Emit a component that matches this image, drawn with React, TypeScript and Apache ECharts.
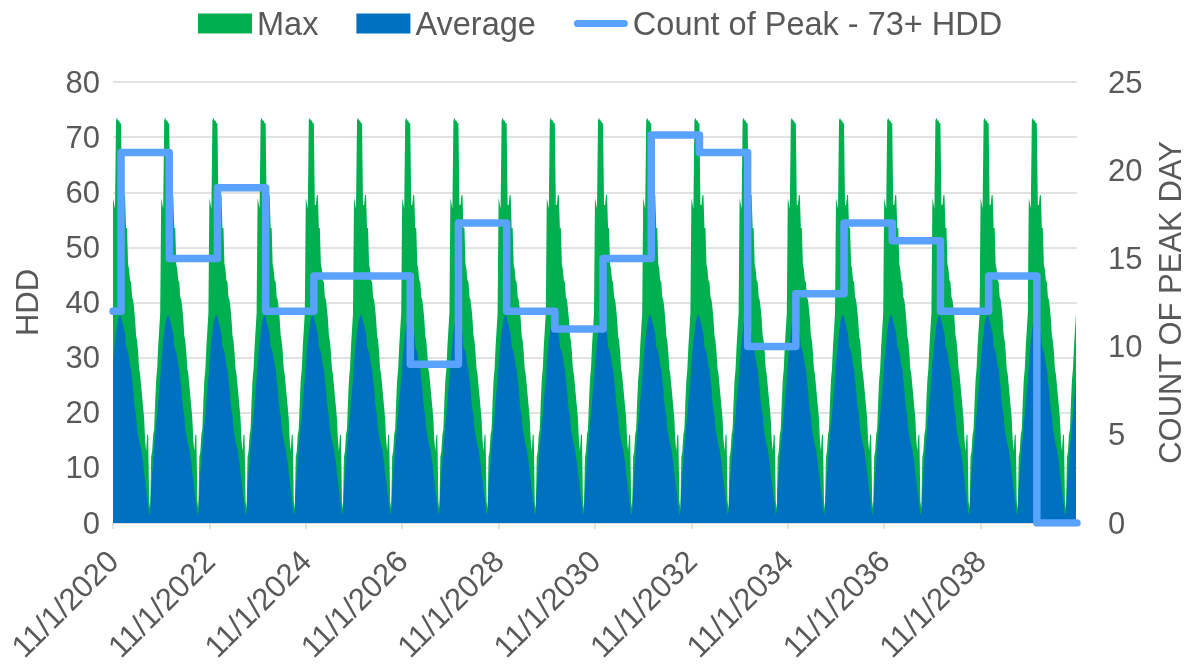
import React, { useEffect, useRef } from "react";
import * as echarts from "echarts";

// Heating seasons shown (each starts 11/1 of the year)
const seasonStartYears = [2020, 2021, 2022, 2023, 2024, 2025, 2026, 2027, 2028, 2029, 2030, 2031, 2032, 2033, 2034, 2035, 2036, 2037, 2038, 2039];

// Daily HDD profile across one season (Nov 1 -> Oct 31), read at ~1 picture pixel (~7.6 days) resolution
const maxProfile = [59, 58, 57, 73, 73.5, 73, 73, 72.5, 72.5, 57.7, 57.7, 59.5, 59.5, 53.5, 53.5, 47, 46, 44, 43.7, 41, 40.5, 39, 37, 34, 33, 31, 28, 27, 25, 23, 21, 19, 15, 13, 16, 16, 4, 2.5, 12, 13, 16, 17, 22, 26, 28, 32, 35, 38];
const avgProfile = [29, 31, 33, 34.5, 36, 37, 37.5, 37.8, 37.4, 36.5, 36, 35, 34.5, 32, 31.5, 31, 30, 28.5, 28, 26, 24.5, 22, 20.5, 19.5, 17, 16, 15, 14, 13.5, 12, 11, 9, 7.8, 6, 4.7, 3, 1.5, 2, 6, 9, 11, 14, 15.5, 18, 19.5, 22, 24, 26];

// Count of peak days (73+ HDD) per calendar year
const peakYears = [2020, 2021, 2022, 2023, 2024, 2025, 2026, 2027, 2028, 2029, 2030, 2031, 2032, 2033, 2034, 2035, 2036, 2037, 2038, 2039, 2040];
const peakCounts = [12, 21, 15, 19, 12, 14, 14, 9, 17, 12, 11, 15, 22, 21, 10, 13, 17, 16, 12, 14, 0];

const hddAxis = { min: 0, max: 80, interval: 10 };
const countAxis = { min: 0, max: 25, interval: 5 };
const dateAxis = { min: 0, max: 20, interval: 2 };

const FONT = "'Liberation Sans', Arial, sans-serif";
const TEXT = "#595959";
const GRID = "#D9D9D9";

export default function App() {
  const ref = useRef<HTMLDivElement>(null);
  useEffect(() => {
    if (!ref.current) return;
    const chart = echarts.init(ref.current, undefined, { renderer: "svg" });
    const n = maxProfile.length;
    const maxData: number[][] = [];
    const avgData: number[][] = [];
    seasonStartYears.forEach((y) => {
      const k = y - seasonStartYears[0];
      maxProfile.forEach((v, p) => maxData.push([k + p / n, v]));
      avgProfile.forEach((v, p) => avgData.push([k + p / n, v]));
    });
    const jan1 = 61 / 365;
    const peakData: number[][] = [];
    peakYears.forEach((y, i) => {
      const k = y - peakYears[0];
      const s = i === 0 ? 0 : k - 1 + jan1;
      const e = i === peakYears.length - 1 ? dateAxis.max : k + jan1;
      peakData.push([s, peakCounts[i]], [e, peakCounts[i]]);
    });

    chart.setOption({
      animation: false,
      textStyle: { fontFamily: FONT },
      legend: {
        top: 2,
        left: 193,
        itemWidth: 54,
        itemHeight: 20,
        itemGap: 38,
        textStyle: { fontSize: 32.5, color: TEXT, fontFamily: FONT },
        data: [
          { name: "Max", icon: "rect" },
          { name: "Average", icon: "rect" },
          { name: "Count of Peak - 73+ HDD", icon: "path://M6.5,0 H93.5 A6.5,6.5 0 0 1 93.5,13 H6.5 A6.5,6.5 0 0 1 6.5,0 Z" },
        ],
      },
      grid: { left: 113, right: 110, top: 82, bottom: 141, outerBoundsMode: "none", containLabel: false },
      xAxis: {
        type: "value",
        ...dateAxis,
        axisLine: { lineStyle: { color: GRID, width: 1.5 } },
        axisTick: { show: true, length: 6, lineStyle: { color: GRID, width: 1.5 } },
        splitLine: { show: false },
        axisLabel: {
          rotate: 45,
          fontSize: 31,
          color: TEXT,
          fontFamily: FONT,
          margin: 33,
          showMaxLabel: false,
          formatter: (v: number) => "11/1/" + (2020 + v),
        },
      },
      yAxis: [
        {
          type: "value",
          ...hddAxis,
          name: "HDD",
          nameLocation: "middle",
          nameRotate: 90,
          nameGap: 70,
          nameTextStyle: { fontSize: 31, color: TEXT, fontFamily: FONT },
          axisLine: { show: false },
          axisTick: { show: false },
          splitLine: { lineStyle: { color: GRID, width: 1.5 } },
          axisLabel: { fontSize: 31, color: TEXT, fontFamily: FONT, margin: 13 },
        },
        {
          type: "value",
          ...countAxis,
          position: "right",
          name: "COUNT OF PEAK DAY",
          nameLocation: "middle",
          nameRotate: 90,
          nameGap: 78,
          nameTextStyle: { fontSize: 31, color: TEXT, fontFamily: FONT },
          axisLine: { show: false },
          axisTick: { show: false },
          splitLine: { show: false },
          axisLabel: { fontSize: 31, color: TEXT, fontFamily: FONT, margin: 31 },
        },
      ],
      series: [
        {
          name: "Max",
          type: "line",
          data: maxData,
          yAxisIndex: 0,
          symbol: "none",
          showSymbol: false,
          lineStyle: { width: 0, color: "#00B050" },
          itemStyle: { color: "#00B050" },
          areaStyle: { color: "#00B050", opacity: 1 },
          z: 1,
        },
        {
          name: "Average",
          type: "line",
          data: avgData,
          yAxisIndex: 0,
          symbol: "none",
          showSymbol: false,
          lineStyle: { width: 0, color: "#0070C0" },
          itemStyle: { color: "#0070C0" },
          areaStyle: { color: "#0070C0", opacity: 1 },
          z: 2,
        },
        {
          name: "Count of Peak - 73+ HDD",
          type: "line",
          data: peakData,
          yAxisIndex: 1,
          symbol: "none",
          showSymbol: false,
          lineStyle: { width: 7.5, color: "#5AA2FF", join: "round", cap: "round" },
          itemStyle: { color: "#5AA2FF" },
          z: 3,
        },
      ],
    });
    return () => chart.dispose();
  }, []);
  return <div ref={ref} style={{ position: "fixed", left: 0, top: 0, width: 1187, height: 664 }} />;
}
